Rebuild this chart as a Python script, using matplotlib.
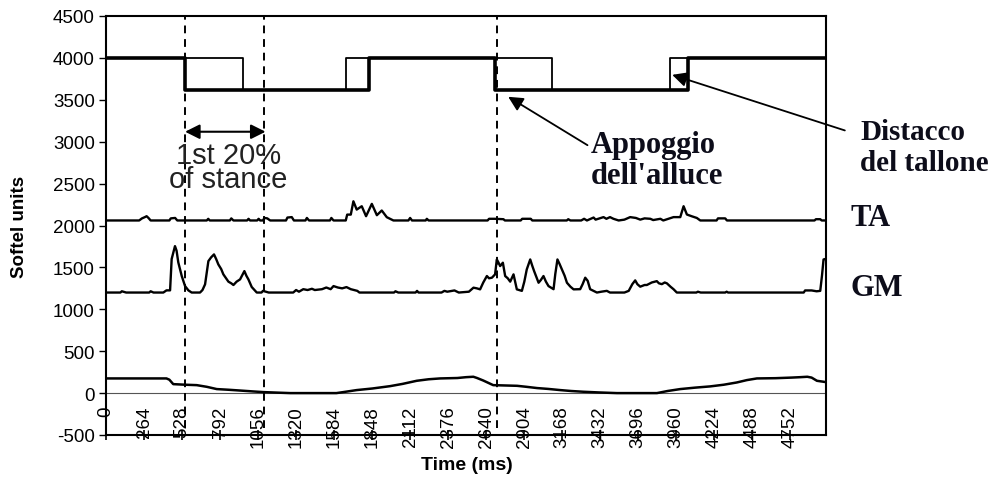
import matplotlib
matplotlib.use("Agg")
import matplotlib.pyplot as plt
import numpy as np

# ---------------- data ----------------
x_ticks = [0, 264, 528, 792, 1056, 1320, 1584, 1848, 2112, 2376, 2640,
           2904, 3168, 3432, 3696, 3960, 4224, 4488, 4752]
y_ticks = [4500, 4000, 3500, 3000, 2500, 2000, 1500, 1000, 500, 0, -500]

# foot switches (step signals)
heel_t = [0, 549, 1827, 2702, 4043, 5000]
heel_v = [4000, 3620, 4000, 3620, 4000, 4000]
toe_t = [0, 952, 1667, 3098, 3918, 5000]
toe_v = [4000, 3620, 4000, 3620, 4000, 4000]

# TA EMG envelope
ta_t = [0, 230, 250, 270, 282, 295, 310, 440, 450, 480, 495, 700, 710, 720, 860, 870, 885,
        980, 990, 1000, 1050, 1060, 1070, 1090, 1100, 1120, 1140, 1250, 1260, 1290, 1305,
        1385, 1395, 1410, 1555, 1565, 1580, 1665, 1675, 1700, 1718, 1741, 1776, 1806, 1846,
        1881, 1915, 1950, 1996, 2100, 2112, 2125, 2220, 2228, 2240, 2650, 2660, 2700, 2760,
        2770, 2880, 2890, 2950, 2960, 3200, 3210, 3225, 3300, 3320, 3340, 3386, 3400, 3455,
        3475, 3500, 3524, 3560, 3600, 3640, 3680, 3710, 3740, 3780, 3800, 3850, 3870, 3941,
        3988, 4011, 4034, 4068, 4103, 4127, 4240, 4250, 4300, 4312, 4920, 4930, 4960, 4970, 5000]
ta_v = [2060, 2060, 2085, 2100, 2111, 2090, 2060, 2060, 2085, 2090, 2060, 2060, 2080, 2060, 2060, 2085, 2060,
        2060, 2080, 2060, 2060, 2080, 2060, 2060, 2090, 2085, 2060, 2060, 2095, 2100, 2060,
        2060, 2090, 2060, 2060, 2090, 2060, 2060, 2130, 2130, 2289, 2190, 2230, 2111, 2258,
        2123, 2179, 2099, 2060, 2060, 2090, 2060, 2060, 2080, 2060, 2060, 2080, 2080, 2075,
        2060, 2060, 2080, 2080, 2060, 2060, 2075, 2060, 2060, 2080, 2060, 2095, 2070, 2100,
        2080, 2100, 2080, 2060, 2070, 2100, 2090, 2070, 2085, 2080, 2065, 2080, 2060, 2100,
        2100, 2230, 2131, 2110, 2090, 2060, 2060, 2085, 2085, 2060, 2060, 2075, 2075, 2060, 2060]

# GM EMG envelope
gm_t = [0, 100, 110, 140, 300, 310, 330, 398, 420, 445, 456, 479, 490, 502, 526, 549, 572, 595,
        653, 670, 688, 711, 730, 750, 765, 780, 800, 815, 850, 870, 885, 907, 931, 961, 975,
        989, 1012, 1047, 1080, 1090, 1110, 1130, 1300, 1320, 1340, 1370, 1400, 1430, 1450,
        1500, 1530, 1560, 1580, 1610, 1640, 1670, 1700, 1745, 1760, 2000, 2010, 2030, 2150,
        2160, 2170, 2330, 2350, 2370, 2420, 2450, 2520, 2552, 2575, 2598, 2620, 2645, 2660,
        2680, 2702, 2714, 2725, 2737, 2756, 2772, 2790, 2807, 2830, 2853, 2888, 2905, 2922,
        2946, 2960, 2973, 2990, 3004, 3020, 3038, 3055, 3073, 3108, 3120, 3135, 3150, 3166,
        3185, 3201, 3225, 3247, 3293, 3310, 3328, 3345, 3362, 3409, 3440, 3478, 3500, 3600,
        3630, 3655, 3675, 3690, 3710, 3740, 3756, 3790, 3825, 3840, 3860, 3880, 3895, 3920,
        3941, 3964, 4100, 4110, 4130, 4300, 4310, 4320, 4845, 4855, 4900, 4935, 4960, 4972,
        4983, 4995, 5000]
gm_v = [1200, 1200, 1215, 1200, 1200, 1215, 1200, 1200, 1226, 1226, 1600, 1754, 1700, 1560, 1397, 1277, 1226, 1200,
        1200, 1230, 1298, 1575, 1620, 1655, 1600, 1536, 1480, 1417, 1330, 1310, 1290, 1330, 1357, 1456, 1400,
        1357, 1266, 1200, 1200, 1220, 1210, 1200, 1200, 1230, 1210, 1240, 1230, 1245, 1230,
        1240, 1260, 1240, 1277, 1260, 1250, 1265, 1240, 1220, 1200, 1200, 1215, 1200, 1200,
        1220, 1200, 1200, 1220, 1210, 1225, 1200, 1210, 1258, 1250, 1238, 1320, 1397, 1370,
        1377, 1417, 1595, 1560, 1516, 1556, 1397, 1370, 1330, 1417, 1238, 1220, 1330, 1476,
        1595, 1520, 1456, 1380, 1317, 1350, 1397, 1330, 1277, 1240, 1420, 1595, 1540, 1476,
        1400, 1317, 1270, 1238, 1240, 1300, 1377, 1340, 1240, 1200, 1210, 1220, 1200, 1200,
        1220, 1300, 1345, 1300, 1270, 1290, 1290, 1320, 1336, 1310, 1300, 1320, 1310, 1270,
        1240, 1200, 1200, 1210, 1200, 1200, 1210, 1200, 1200, 1225, 1225, 1215, 1220, 1400,
        1595, 1600, 1595]

# lower (pressure / angle) signal
low_t = [0, 420, 440, 467, 550, 630, 700, 769, 850, 953, 1020, 1092, 1200, 1280, 1600, 1660,
         1741, 1850, 1973, 2060, 2158, 2240, 2320, 2440, 2500, 2551, 2577, 2620, 2689, 2750,
         2855, 2920, 2994, 3070, 3154, 3230, 3316, 3420, 3548, 3826, 3900, 3988, 4090, 4196,
         4290, 4381, 4450, 4520, 4650, 4760, 4821, 4870, 4900, 4937, 5000]
low_v = [175, 175, 160, 107, 100, 95, 75, 48, 40, 28, 20, 12, 5, 0, 0, 15,
         36, 55, 83, 110, 147, 165, 175, 180, 190, 195, 180, 150, 95, 92,
         87, 75, 60, 50, 36, 25, 16, 8, 0, 0, 25, 48, 65, 80,
         100, 127, 155, 175, 178, 185, 190, 195, 185, 147, 131]

event_times = [549, 1098, 2716]

# ---------------- figure ----------------
plt.rcParams['font.family'] = ['Liberation Sans', 'DejaVu Sans']
fig = plt.figure(figsize=(9.95, 4.85), dpi=100)
ax = fig.add_axes([106/995, 1-436/485, 720/995, 419/485])

ax.set_xlim(0, 5000)
ax.set_ylim(-500, 4500)

# zero line
ax.axhline(0, color='#555555', lw=0.8, zorder=1)

# signals
ax.plot(toe_t, toe_v, drawstyle='steps-post', color='black', lw=1.3, zorder=3)
ax.plot(heel_t, heel_v, drawstyle='steps-post', color='black', lw=2.6, zorder=4)
ax.plot(ta_t, ta_v, color='black', lw=1.7, zorder=3)
ax.plot(gm_t, gm_v, color='black', lw=1.7, zorder=3)
ax.plot(low_t, low_v, color='black', lw=1.8, zorder=3)

# dashed event lines
for t in event_times:
    ax.plot([t, t], [-420, 4500], color='black', lw=1.4, ls=(0, (4, 3)), zorder=2, clip_on=False)

# ticks
ax.set_xticks(x_ticks)
ax.set_xticklabels([str(v) for v in x_ticks], rotation=90, fontsize=13.5)
ax.tick_params(axis='x', direction='inout', length=7, width=1.2, pad=-25)
ax.set_yticks(y_ticks)
ax.set_yticklabels([str(v) for v in y_ticks], fontsize=13.5)
ax.tick_params(axis='y', direction='out', length=5, width=1.0, pad=3)
for s in ax.spines.values():
    s.set_linewidth(1.5)

ax.set_ylabel('Softel units', fontsize=13.5, fontweight='bold')
ax.yaxis.set_label_coords(-0.108, 0.5)
ax.set_xlabel('Time (ms)', fontsize=14, fontweight='bold')
ax.xaxis.set_label_coords(0.501, -0.05)

# 1st 20% of stance annotation
ax.annotate('', xy=(event_times[0], 3119), xytext=(event_times[1] + 10, 3119),
            arrowprops=dict(arrowstyle='<|-|>', color='black', lw=1.5, mutation_scale=22,
                            shrinkA=0, shrinkB=0))
ax.text(848, 2700, '1st 20%\nof stance', ha='center', va='center', fontsize=21,
        linespacing=0.82, color='#222222')

serif = ['Liberation Serif', 'DejaVu Serif']
txtc = '#0d0d1a'
ax.annotate("Appoggio\ndell'alluce", xy=(2793, 3536), xytext=(3363, 2780),
            ha='left', va='center', fontsize=22, fontweight='bold', family=serif,
            color=txtc, linespacing=1.1,
            arrowprops=dict(arrowstyle='-|>', color='black', lw=1.3, mutation_scale=22,
                            shrinkA=0, shrinkB=0, relpos=(0.0, 0.72)))
ax.annotate("Distacco\ndel tallone", xy=(3932, 3798), xytext=(5238, 2940),
            ha='left', va='center', fontsize=21, fontweight='bold', family=serif,
            color=txtc, linespacing=1.2, annotation_clip=False,
            arrowprops=dict(arrowstyle='-|>', color='black', lw=1.3, mutation_scale=22,
                            shrinkA=0, shrinkB=0, relpos=(-0.12, 0.78)))
ax.text(5169, 2095, 'TA', ha='left', va='center', fontsize=22, fontweight='bold',
        family=serif, color=txtc)
ax.text(5169, 1262, 'GM', ha='left', va='center', fontsize=22, fontweight='bold',
        family=serif, color=txtc)

fig.savefig('out.png', dpi=100)
